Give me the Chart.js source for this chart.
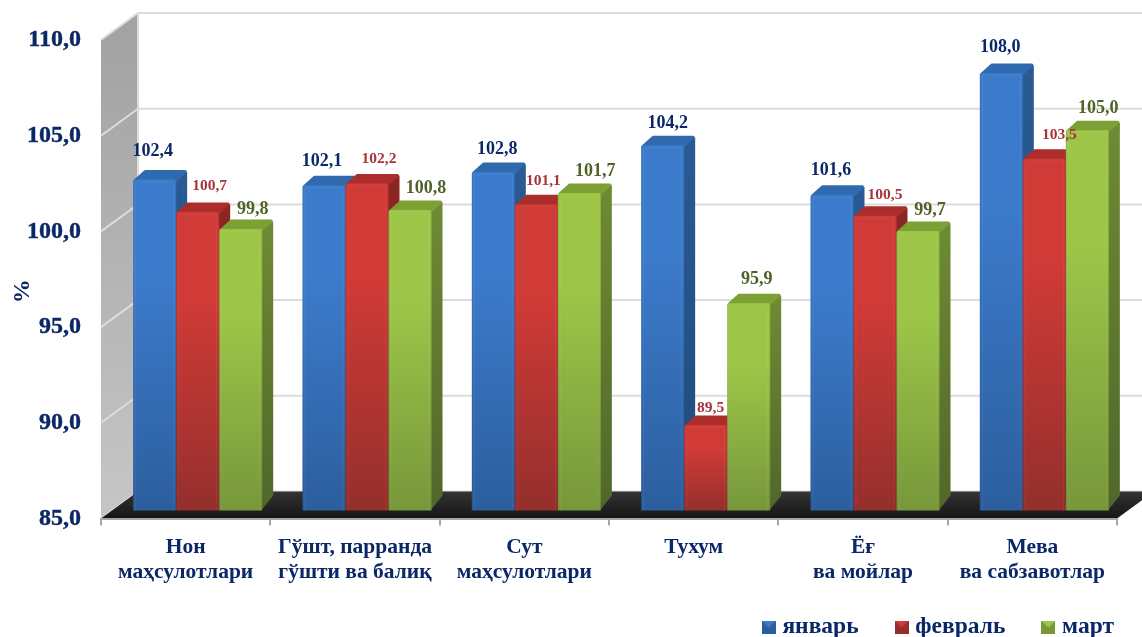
<!DOCTYPE html>
<html>
<head>
<meta charset="utf-8">
<style>
  html, body { margin: 0; padding: 0; background: #fff; }
  #c { display: block; }
</style>
<script src="https://cdn.jsdelivr.net/npm/chart.js@4"></script>
</head>
<body>
<canvas id="c" width="1142" height="637"></canvas>
<script>
const categories = [
  ['Нон', 'маҳсулотлари'],
  ['Гўшт, парранда', 'гўшти ва балиқ'],
  ['Сут', 'маҳсулотлари'],
  ['Тухум'],
  ['Ёғ', 'ва мойлар'],
  ['Мева', 'ва сабзавотлар']
];
const january = [102.4, 102.1, 102.8, 104.2, 101.6, 108.0];
const february = [100.7, 102.2, 101.1, 89.5, 100.5, 103.5];
const march = [99.8, 100.8, 101.7, 95.9, 99.7, 105.0];
const seriesNames = ['январь', 'февраль', 'март'];

const NAVY = '#0a2768';
const SERIF = '"Liberation Serif", serif';

// front / side / top colours for each series
const looks = [
  { light: '#3c7bcb', dark: '#2c5e9e', side: '#2a5a94', sideDark: '#1f4a7a', top: '#2f69ae', text: NAVY, size: 18 },
  { light: '#d03a37', dark: '#942f2c', side: '#8c2623', sideDark: '#6a1f1d', top: '#ab2e2b', text: '#a5353a', size: 15.5 },
  { light: '#9dc648', dark: '#77973b', side: '#6d8a34', sideDark: '#50672a', top: '#7da035', text: '#4f6228', size: 18 }
];

// where each value label sits relative to the top middle of its bar
const labelNudge = [
  [[-2, -28], [-2, -24], [4, -23], [5, -22], [-1, -24], [-1, -26]],
  [[12, -26], [12, -24], [7, -23], [5, -17], [10, -21], [15, -24]],
  [[12, -20], [16, -22], [16, -22], [8, -24], [12, -21], [11, -22]]
];

const WALL_DX = 37, WALL_DY = 27;   // depth of the box
const BAR_SHIFT = 12;               // bars stand a bit behind the front edge
const BAR_DX = 12, BAR_DY = 10;     // depth of a bar

function faceGradient(look) {
  return (ctx) => {
    const chart = ctx.chart;
    const yScale = chart.scales.yBars;
    if (!yScale || ctx.raw === undefined) return look.light;
    const top = yScale.getPixelForValue(ctx.raw);
    const bottom = yScale.getPixelForValue(85);
    if (!Number.isFinite(top) || !Number.isFinite(bottom)) return look.light;
    const g = chart.ctx.createLinearGradient(0, top, 0, bottom);
    g.addColorStop(0, look.light);
    g.addColorStop(0.3, look.light);
    g.addColorStop(1, look.dark);
    return g;
  };
}

function legendIcon(look) {
  const c = document.createElement('canvas');
  c.width = 14;
  c.height = 13;
  const g = c.getContext('2d');
  g.fillStyle = look.dark;
  g.fillRect(0, 0, 14, 13);
  g.fillStyle = look.light;
  g.beginPath();
  g.moveTo(0, 0);
  g.lineTo(14, 0);
  g.lineTo(7, 7);
  g.closePath();
  g.fill();
  return c;
}
const legendIcons = looks.map(legendIcon);

function drawBox(chart) {
  const { ctx, chartArea: a, scales } = chart;
  const yScale = scales.y;
  ctx.save();

  // left wall
  const wall = ctx.createLinearGradient(0, a.top, 0, a.bottom);
  wall.addColorStop(0, '#a3a3a3');
  wall.addColorStop(1, '#c6c6c6');
  ctx.fillStyle = wall;
  ctx.beginPath();
  ctx.moveTo(a.left, a.top);
  ctx.lineTo(a.left + WALL_DX, a.top - WALL_DY);
  ctx.lineTo(a.left + WALL_DX, a.bottom - WALL_DY);
  ctx.lineTo(a.left, a.bottom);
  ctx.closePath();
  ctx.fill();

  // grid lines, along the wall and then the back
  ctx.strokeStyle = '#dcdcdc';
  ctx.lineWidth = 2;
  yScale.ticks.forEach((t) => {
    const py = yScale.getPixelForValue(t.value);
    ctx.beginPath();
    ctx.moveTo(a.left, py);
    ctx.lineTo(a.left + WALL_DX, py - WALL_DY);
    ctx.lineTo(chart.width, py - WALL_DY);
    ctx.stroke();
  });
  ctx.beginPath();
  ctx.moveTo(a.left + WALL_DX, a.top - WALL_DY);
  ctx.lineTo(a.left + WALL_DX, a.bottom - WALL_DY);
  ctx.stroke();

  // floor
  const floor = ctx.createLinearGradient(0, a.bottom - WALL_DY, 0, a.bottom);
  floor.addColorStop(0, '#343434');
  floor.addColorStop(1, '#151515');
  ctx.fillStyle = floor;
  ctx.beginPath();
  ctx.moveTo(a.left, a.bottom);
  ctx.lineTo(a.right, a.bottom);
  ctx.lineTo(a.right + WALL_DX, a.bottom - WALL_DY);
  ctx.lineTo(a.left + WALL_DX, a.bottom - WALL_DY);
  ctx.closePath();
  ctx.fill();
  ctx.restore();
}

function drawBarDepth(ctx, bar, look) {
  const right = bar.x + bar.width / 2;
  const left = bar.x - bar.width / 2;

  // side face, its foot runs a little steeper towards the back
  const side = ctx.createLinearGradient(0, bar.y, 0, bar.base);
  side.addColorStop(0, look.side);
  side.addColorStop(1, look.sideDark);
  ctx.fillStyle = side;
  ctx.beginPath();
  ctx.moveTo(right - 1, bar.y);
  ctx.lineTo(right + BAR_DX - 1, bar.y - BAR_DY + 2);
  ctx.lineTo(right + BAR_DX - 1, bar.base - 15);
  ctx.lineTo(right - 1, bar.base);
  ctx.closePath();
  ctx.fill();

  // top face, thick round stroke softens the corners
  ctx.fillStyle = look.top;
  ctx.strokeStyle = look.top;
  ctx.lineWidth = 3;
  ctx.lineJoin = 'round';
  ctx.beginPath();
  ctx.moveTo(left + 2, bar.y + 1);
  ctx.lineTo(left + BAR_DX, bar.y - BAR_DY + 2);
  ctx.lineTo(right + BAR_DX - 3, bar.y - BAR_DY + 2);
  ctx.lineTo(right - 1, bar.y + 1);
  ctx.closePath();
  ctx.fill();
  ctx.stroke();
}

// soft bevel on the front of a bar
function drawBevel(ctx, bar) {
  const right = bar.x + bar.width / 2;
  const left = bar.x - bar.width / 2;
  ctx.lineWidth = 1;
  ctx.strokeStyle = 'rgba(255,255,255,0.06)';
  ctx.beginPath();
  ctx.moveTo(left + 2.5, bar.base);
  ctx.lineTo(left + 2.5, bar.y + 2.5);
  ctx.lineTo(right - 2.5, bar.y + 2.5);
  ctx.lineTo(right - 2.5, bar.base);
  ctx.stroke();
  ctx.strokeStyle = 'rgba(0,0,0,0.07)';
  ctx.beginPath();
  ctx.moveTo(left + 0.5, bar.base);
  ctx.lineTo(left + 0.5, bar.y + 1);
  ctx.moveTo(right - 0.5, bar.y + 1);
  ctx.lineTo(right - 0.5, bar.base);
  ctx.stroke();
}

const box3d = {
  id: 'box3d',
  beforeDraw(chart) {
    drawBox(chart);
  },
  afterLayout(chart) {
    // legend sits tight in the bottom right corner
    const legend = chart.legend;
    legend.left += 38;
    legend.right += 38;
    legend.top -= 18;
    legend.bottom -= 18;
  },
  // datasets are painted here, january first, so that each bar covers the side of the one before
  beforeDatasetsDraw(chart) {
    const ctx = chart.ctx;
    ctx.save();
    ctx.translate(BAR_SHIFT, 0);
    chart.data.datasets.forEach((ds, i) => {
      chart.getDatasetMeta(i).data.forEach((bar) => {
        drawBarDepth(ctx, bar, looks[i]);
        bar.draw(ctx, chart.chartArea);
        drawBevel(ctx, bar);
      });
    });
    ctx.textAlign = 'center';
    ctx.textBaseline = 'middle';
    chart.data.datasets.forEach((ds, i) => {
      ctx.font = 'bold ' + looks[i].size + 'px ' + SERIF;
      ctx.fillStyle = looks[i].text;
      chart.getDatasetMeta(i).data.forEach((bar, j) => {
        const text = ds.data[j].toFixed(1).replace('.', ',');
        ctx.fillText(text, bar.x + labelNudge[i][j][0], bar.y + labelNudge[i][j][1]);
      });
    });
    ctx.restore();
    return false;
  }
};

const seriesData = [january, february, march];

new Chart(document.getElementById('c'), {
  type: 'bar',
  data: {
    labels: categories,
    datasets: seriesNames.map((name, i) => ({
      label: name,
      data: seriesData[i],
      yAxisID: 'yBars',
      base: 85,
      backgroundColor: faceGradient(looks[i]),
      borderWidth: 0,
      borderRadius: { topLeft: 2, topRight: 2 },
      barPercentage: 1,
      categoryPercentage: 0.762
    }))
  },
  options: {
    responsive: false,
    animation: false,
    events: [],
    layout: { padding: { top: 40, right: 25, bottom: -30 } },
    plugins: {
      tooltip: { enabled: false },
      legend: {
        position: 'bottom',
        align: 'end',
        labels: {
          usePointStyle: true,
          boxWidth: 4,
          padding: 41,
          color: NAVY,
          font: { family: SERIF, size: 23.5, weight: 'bold', lineHeight: '24px' },
          generateLabels(chart) {
            const items = Chart.defaults.plugins.legend.labels.generateLabels(chart);
            items.forEach((item, i) => { item.pointStyle = legendIcons[i]; });
            return items;
          }
        }
      }
    },
    scales: {
      x: {
        grid: { drawOnChartArea: false, color: '#a6a6a6', lineWidth: 2, tickLength: 7 },
        border: { color: '#a6a6a6', width: 2 },
        ticks: {
          color: NAVY,
          maxRotation: 0,
          autoSkip: false,
          padding: 9,
          font: { family: SERIF, size: 21.5, weight: 'bold', lineHeight: '25px' }
        },
        afterFit(axis) { axis.height = 74; }
      },
      y: {
        min: 85,
        max: 110,
        grid: { display: false },
        border: { display: false },
        title: {
          display: true,
          text: '%    ',
          color: NAVY,
          padding: { top: 8, bottom: 0 },
          font: { family: SERIF, size: 24, weight: 'bold' }
        },
        ticks: {
          stepSize: 5,
          color: NAVY,
          padding: 12,
          textStrokeColor: NAVY,
          textStrokeWidth: 0.4,
          font: { family: SERIF, size: 24, weight: 'bold' },
          callback: (v) => v.toFixed(1).replace('.', ',')
        },
        afterFit(axis) { axis.width = 101; }
      },
      // bars stand behind the front edge of the box so their plane is a bit smaller
      yBars: {
        display: false,
        min: 84.58,
        max: 109.74
      }
    }
  },
  plugins: [box3d]
});
</script>
</body>
</html>
